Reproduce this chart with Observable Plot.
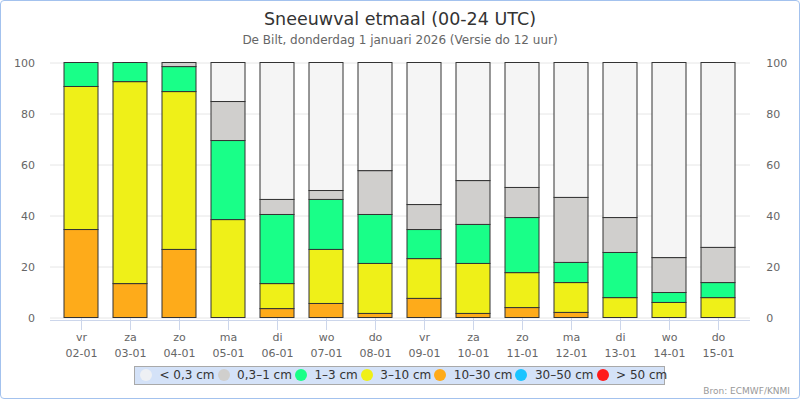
<!DOCTYPE html>
<html>
<head>
<meta charset="utf-8">
<script src="https://cdn.jsdelivr.net/npm/d3@7"></script>
<script src="https://cdn.jsdelivr.net/npm/@observablehq/plot@0.6"></script>
<style>
  html, body { margin: 0; padding: 0; background: #fff; }
  #wrap { position: relative; width: 800px; height: 400px; overflow: hidden; font-family: "DejaVu Sans", sans-serif; }
  #wrap svg { position: absolute; left: 0; top: 0; }
  .border { position: absolute; left: 0; top: 0; width: 800px; height: 399px; box-sizing: border-box; border: 1px solid #a3c2ee; border-radius: 4px; pointer-events: none; }
  .title { position: absolute; left: 0; width: 800px; text-align: center; line-height: 1; white-space: nowrap; }
  #t1 { top: 11px; font-size: 17.5px; color: #333333; }
  #t2 { top: 33.5px; font-size: 12px; color: #666666; }
  #legend { position: absolute; left: 134px; top: 366px; width: 531px; height: 18.5px; box-sizing: border-box; background: #d4e2f8; border: 1px solid #a9a9a9; display: flex; align-items: center; padding-left: 5px; white-space: nowrap; font-size: 12px; color: #333333; overflow: visible; }
  .item { display: flex; align-items: center; margin-right: 3px; }
  .dot { width: 12px; height: 12px; border-radius: 50%; margin-right: 7.5px; flex: none; }
  #src { position: absolute; right: 10px; top: 386.5px; font-size: 9px; color: #999999; line-height: 1; }
</style>
</head>
<body>
<div id="wrap">
  <div id="chart"></div>
  <div class="title" id="t1">Sneeuwval etmaal (00-24 UTC)</div>
  <div class="title" id="t2">De Bilt, donderdag 1 januari 2026 (Versie do 12 uur)</div>
  <div id="legend"></div>
  <div id="src">Bron: ECMWF/KNMI</div>
  <div class="border"></div>
</div>
<script>
// Categories
const days  = ["vr","za","zo","ma","di","wo","do","vr","za","zo","ma","di","wo","do"];
const dates = ["02-01","03-01","04-01","05-01","06-01","07-01","08-01","09-01","10-01","11-01","12-01","13-01","14-01","15-01"];

// Series (percent of ensemble)
const lt03   = [0, 0, 0, 15.3, 53.7, 50.2, 42.4, 55.7, 46.3, 49.0, 52.9, 60.8, 76.5, 72.5];   // < 0,3 cm
const s03_1  = [0, 0, 1.6, 15.3, 5.9, 3.5, 17.2, 9.8, 17.2, 11.8, 25.5, 13.7, 13.7, 13.8];    // 0,3–1 cm
const s1_3   = [9.4, 7.5, 9.8, 31.0, 27.1, 19.6, 19.2, 11.4, 15.3, 21.6, 7.9, 17.7, 3.9, 5.9]; // 1–3 cm
const s3_10  = [56.1, 79.2, 61.9, 38.4, 9.8, 21.2, 19.6, 15.6, 19.6, 13.7, 11.7, 7.8, 5.9, 7.8]; // 3–10 cm
const s10_30 = [34.5, 13.3, 26.7, 0, 3.5, 5.5, 1.6, 7.5, 1.6, 3.9, 2.0, 0, 0, 0];          // 10–30 cm
const s30_50 = [0, 0, 0, 0, 0, 0, 0, 0, 0, 0, 0, 0, 0, 0];                                  // 30–50 cm
const gt50   = [0, 0, 0, 0, 0, 0, 0, 0, 0, 0, 0, 0, 0, 0];                                  // > 50 cm

const seriesNames  = ["< 0,3 cm", "0,3–1 cm", "1–3 cm", "3–10 cm", "10–30 cm", "30–50 cm", "> 50 cm"];
const seriesColors = ["#f5f5f5", "#d0cfcd", "#19ff88", "#eff018", "#feab1a", "#19c4ff", "#ff1a1a"];
const seriesValues = [lt03, s03_1, s1_3, s3_10, s10_30, s30_50, gt50];
const yTicks = [0, 20, 40, 60, 80, 100];

// Build long table: bottom of stack first (> 50 cm ... < 0,3 cm)
const table = [];
for (let k = seriesNames.length - 1; k >= 0; k--) {
  dates.forEach((d, i) => {
    const v = seriesValues[k][i];
    if (v > 0) table.push({date: d, series: seriesNames[k], value: v});
  });
}
const stackOrder = seriesNames.slice().reverse();

const chart = Plot.plot({
  width: 800,
  height: 400,
  marginTop: 62.5,
  marginBottom: 82.5,
  marginLeft: 50,
  marginRight: 50,
  style: {fontFamily: "DejaVu Sans, sans-serif", fontSize: "11px", background: "transparent"},
  x: {domain: dates, paddingInner: 0.307, paddingOuter: 0, insetLeft: 13, insetRight: 15, label: null},
  y: {domain: [0, 100], label: null},
  color: {domain: seriesNames, range: seriesColors},
  marks: [
    Plot.ruleY(yTicks, {stroke: "#e6e6e6", strokeWidth: 1}),
    Plot.axisX({anchor: "bottom", tickSize: 12.5, tickPadding: 0, stroke: "#ccd6eb", fill: "#666666", fontSize: 11, lineHeight: 1.4,
      tickFormat: (d) => days[dates.indexOf(d)] + "\n" + d, label: null}),
    Plot.ruleY([0], {stroke: "#ccd6eb", strokeWidth: 1, dy: 2.5}),
    Plot.barY(table, {x: "date", y: "value", fill: "series", stroke: "#333333", strokeWidth: 1, order: stackOrder}),
    Plot.axisY({anchor: "left", ticks: yTicks, tickSize: 0, tickPadding: 15.5, fill: "#666666", fontSize: 11, label: null}),
    Plot.axisY({anchor: "right", ticks: yTicks, tickSize: 0, tickPadding: 15.7, fill: "#666666", fontSize: 11, label: null})
  ]
});
document.getElementById("chart").appendChild(chart);

// Legend
const legend = document.getElementById("legend");
seriesNames.forEach((name, i) => {
  const item = document.createElement("div");
  item.className = "item";
  const dot = document.createElement("span");
  dot.className = "dot";
  dot.style.background = i === 0 ? "#eef0f4" : seriesColors[i];
  const lab = document.createElement("span");
  lab.textContent = name;
  item.appendChild(dot);
  item.appendChild(lab);
  legend.appendChild(item);
});
</script>
</body>
</html>
